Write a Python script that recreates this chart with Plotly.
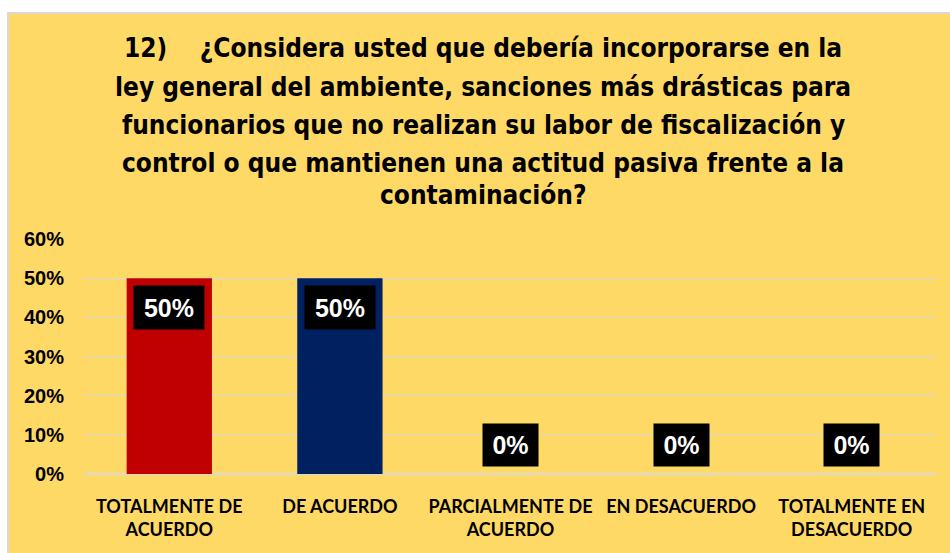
import plotly.graph_objects as go

categories = ["TOTALMENTE DE<br>ACUERDO", "DE ACUERDO", "PARCIALMENTE DE<br>ACUERDO",
              "EN DESACUERDO", "TOTALMENTE EN<br>DESACUERDO"]
values = [0.50, 0.50, 0.0, 0.0, 0.0]
labels = ["50%", "50%", "0%", "0%", "0%"]
bar_colors = ["#C00000", "#002060", "#A5A5A5", "#FFC000", "#5B9BD5"]
tick_vals = [0, 0.1, 0.2, 0.3, 0.4, 0.5, 0.6]
title_lines = [
    "12)    ¿Considera usted que debería incorporarse en la",
    "ley general del ambiente, sanciones más drásticas para",
    "funcionarios que no realizan su labor de fiscalización y",
    "control o que mantienen una actitud pasiva frente a la",
    "contaminación?",
]

W, H = 950, 553
L, R, T, B = 84, 13, 239, 79
pw, ph = W - L - R, H - T - B

def px_x(x):
    return (x - L) / pw

def px_y(y):
    return (H - B - y) / ph

YELLOW = "#FFD966"

fig = go.Figure()
fig.add_trace(go.Bar(x=categories, y=values, marker=dict(color=bar_colors, line=dict(width=0)),
                     hoverinfo="skip"))

annotations = []
for c, v, lab in zip(categories, values, labels):
    if v > 0:
        annotations.append(dict(x=c, y=v, xref="x", yref="y", text="<b>" + lab + "</b>", showarrow=False,
                                yanchor="top", yshift=-7, bgcolor="black", width=70, height=43,
                                borderpad=0,
                                font=dict(family="Liberation Sans, Arial", size=25, color="white")))
    else:
        annotations.append(dict(x=c, y=v, xref="x", yref="y", text="<b>" + lab + "</b>", showarrow=False,
                                yanchor="bottom", yshift=7, bgcolor="black", width=55, height=42,
                                borderpad=0,
                                font=dict(family="Liberation Sans, Arial", size=25, color="white")))

title_y = [48, 87, 125, 163, 195]
for line, yc in zip(title_lines, title_y):
    annotations.append(dict(x=px_x(483), y=px_y(yc), xref="paper", yref="paper", text="<b>" + line + "</b>",
                            showarrow=False, xanchor="center", yanchor="middle",
                            font=dict(family="DejaVu Sans Condensed, Liberation Sans Narrow, Arial Narrow",
                                      size=26, color="black")))

shapes = [
    dict(type="rect", xref="paper", yref="paper", x0=px_x(8), x1=px_x(W + 5), y0=px_y(H + 5), y1=px_y(13),
         fillcolor=YELLOW, line=dict(color="#D9D9D9", width=2), layer="below"),
]

fig.update_layout(
    width=W, height=H,
    margin=dict(l=L, r=R, t=T, b=B, pad=0),
    paper_bgcolor="white",
    plot_bgcolor="rgba(0,0,0,0)",
    bargap=0.5,
    showlegend=False,
    annotations=annotations,
    shapes=shapes,
    xaxis=dict(showgrid=False, showline=False, zeroline=False, ticks="outside", ticklen=16,
               tickcolor="rgba(0,0,0,0)",
               tickfont=dict(family="Lato, Liberation Sans", size=18, color="black", weight="bold")),
    yaxis=dict(range=[0, 0.6], tickvals=tick_vals, tickformat=".0%", showgrid=True,
               gridcolor="#D9D9D9", gridwidth=1, zeroline=True, zerolinecolor="#D9D9D9",
               zerolinewidth=2, showline=False, ticks="", ticklabelstandoff=19,
               tickfont=dict(family="Liberation Sans, Arial", size=20, color="black", weight="bold")),
)

fig.write_html("out.html", config={"displayModeBar": False},
               post_script="document.body.style.margin='0';document.body.style.overflow='hidden';")
